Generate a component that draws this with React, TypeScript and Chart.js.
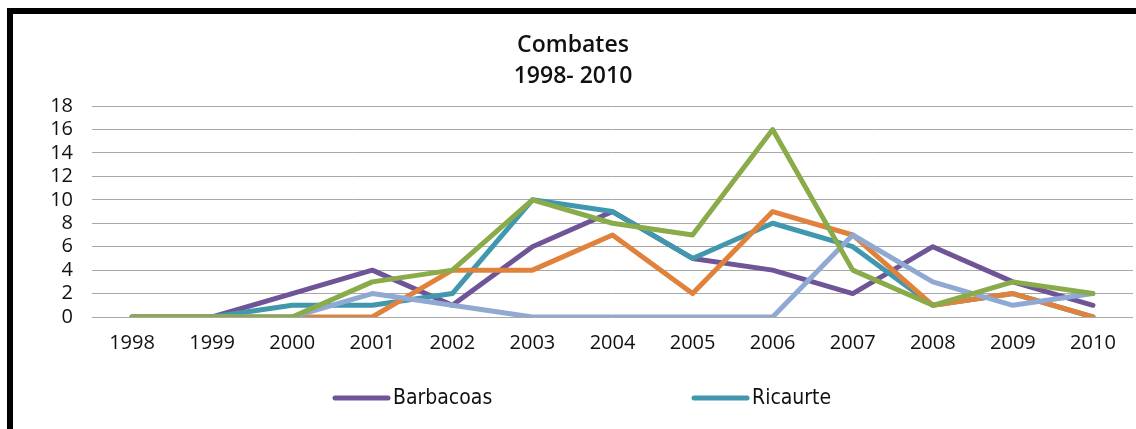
import React, { useEffect, useRef } from "react";
import { Chart, registerables } from "chart.js";

Chart.register(...registerables);

const years = ["1998", "1999", "2000", "2001", "2002", "2003", "2004", "2005", "2006", "2007", "2008", "2009", "2010"];
const barbacoas = [0, 0, 2, 4, 1, 6, 9, 5, 4, 2, 6, 3, 1];
const ricaurte = [0, 0, 1, 1, 2, 10, 9, 5, 8, 6, 1, 2, 0];
const serie3 = [0, 0, 0, 0, 4, 4, 7, 2, 9, 7, 1, 2, 0];
const serie4 = [0, 0, 0, 2, 1, 0, 0, 0, 0, 7, 3, 1, 2];
const serie5 = [0, 0, 0, 3, 4, 10, 8, 7, 16, 4, 1, 3, 2];
const titleLines = ["Combates", "1998- 2010"];
const legendShown = ["Barbacoas", "Ricaurte"];

const seriesList = [
  { label: "Barbacoas", data: barbacoas, color: "#6f5597" },
  { label: "Ricaurte", data: ricaurte, color: "#4197ae" },
  { label: "Serie 3", data: serie3, color: "#e0823b" },
  { label: "Serie 4", data: serie4, color: "#8fa9d2" },
  { label: "Serie 5", data: serie5, color: "#8aab4a" },
];

const legendPlugin = {
  id: "customLegend",
  afterDraw(chart: any) {
    const ctx = chart.ctx;
    const startX = [320, 679];
    const y = 384;
    ctx.save();
    legendShown.forEach((name, i) => {
      const ds = chart.data.datasets.find((d: any) => d.label === name);
      const x = startX[i];
      ctx.strokeStyle = ds.borderColor;
      ctx.lineWidth = 5;
      ctx.lineCap = "round";
      ctx.beginPath();
      ctx.moveTo(x + 2, y);
      ctx.lineTo(x + 55, y);
      ctx.stroke();
      ctx.fillStyle = "#111";
      ctx.font = "21px 'DejaVu Sans Condensed', 'DejaVu Sans', sans-serif";
      ctx.textBaseline = "middle";
      ctx.textAlign = "left";
      ctx.fillText(name, x + 60, y + 1);
    });
    ctx.restore();
  },
};

export default function App() {
  const ref = useRef<HTMLCanvasElement | null>(null);
  useEffect(() => {
    if (!ref.current) return;
    const chart = new Chart(ref.current, {
      type: "line",
      data: {
        labels: years,
        datasets: seriesList.map((s, i) => ({
          label: s.label,
          data: s.data,
          borderColor: s.color,
          backgroundColor: s.color,
          borderWidth: 5,
          borderCapStyle: "round",
          borderJoinStyle: "round",
          pointRadius: 0,
          tension: 0,
          order: -i,
        })),
      },
      options: {
        animation: false,
        responsive: false,
        devicePixelRatio: 1,
        layout: { padding: { left: 0, right: 3, top: 0, bottom: 60 } },
        plugins: {
          legend: { display: false },
          tooltip: { enabled: false },
          title: {
            display: true,
            text: titleLines,
            color: "#111",
            font: { family: "'Open Sans', sans-serif", size: 23, weight: "600", lineHeight: 1.35 },
            padding: { top: 16, bottom: 14 },
          },
        },
        scales: {
          x: {
            offset: true,
            grid: { display: false, drawTicks: false },
            border: { display: false },
            ticks: {
              color: "#111",
              font: { family: "'Open Sans', sans-serif", size: 20 },
              padding: 14,
              maxRotation: 0,
              autoSkip: false,
            },
          },
          y: {
            min: 0,
            max: 18,
            grid: { color: "#a8a8a8", lineWidth: 1, drawTicks: false },
            border: { display: false },
            ticks: {
              stepSize: 2,
              autoSkip: false,
              color: "#111",
              font: { family: "'Open Sans', sans-serif", size: 20 },
              padding: 19,
            },
            afterFit: (s: any) => {
              s.width = 79;
            },
          },
        },
      },
      plugins: [legendPlugin],
    });
    return () => chart.destroy();
  }, []);

  return (
    <div style={{ position: "fixed", left: 0, top: 0, width: 1136, height: 429, background: "#fff" }}>
      <div
        style={{
          position: "absolute",
          left: 7,
          top: 8,
          width: 1129,
          height: 421,
          boxSizing: "border-box",
          borderTop: "6px solid #000",
          borderLeft: "6px solid #000",
          background: "#fff",
        }}
      >
        <canvas ref={ref} width={1123} height={415} style={{ display: "block" }} />
      </div>
    </div>
  );
}
